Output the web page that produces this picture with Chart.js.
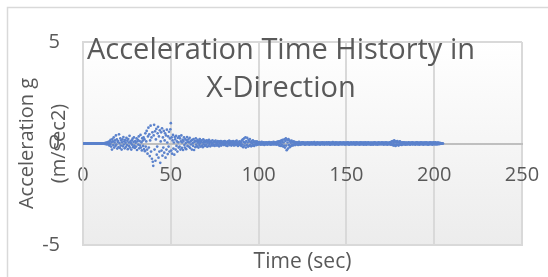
<!DOCTYPE html>
<html>
<head>
<meta charset="utf-8">
<script src="https://cdn.jsdelivr.net/npm/chart.js@4/dist/chart.umd.min.js"></script>
<style>
  html, body { margin: 0; padding: 0; background: #fff; }
  canvas { display: block; }
</style>
</head>
<body>
<canvas id="chart" width="548" height="277"></canvas>
<script>
// Acceleration record, one value every 0.25 s from t = 0
const sampleStep = 0.25;
const accel = [
  0, 0, 0, 0, 0, 0, 0, 0, 0, 0, 0, 0, 0, 0, 0, 0, 0, 0, 0, 0,
  0, 0, 0, 0, 0, 0, 0, 0, 0, 0, 0, 0, 0, 0, 0, 0, 0, 0, 0, 0,
  0, 0, 0, 0, 0, 0, 0, 0, 0, 0.01, -0.02, 0.03, 0.01, -0.04, 0.05, -0.02, 0.06, -0.05, 0.08, 0.02,
  -0.1, 0.12, -0.04, 0.18, -0.15, 0.06, -0.3, 0.22, 0.1, -0.08, 0.3, -0.2, 0.05, 0.15, -0.12, 0.4, -0.06, 0.2, -0.25, 0.08,
  0.12, -0.18, 0.45, 0.02, -0.22, 0.25, -0.1, 0.15, -0.3, 0.06, 0.2, -0.14, 0.32, -0.05, 0.1, -0.24, 0.18, 0.04, -0.16, 0.28,
  -0.08, 0.14, -0.28, 0.22, 0.05, -0.12, 0.38, -0.2, 0.1, 0.02, -0.3, 0.16, -0.06, 0.24, -0.18, 0.08, 0.3, -0.1, -0.22, 0.12,
  0.04, -0.15, 0.25, -0.32, 0.1, 0.18, -0.06, 0.35, -0.24, 0.12, -0.1, 0.42, -0.2, 0.06, -0.34, 0.26, 0.14, -0.12, 0.3, -0.28,
  0.2, -0.38, 0.5, -0.15, 0.1, 0.62, -0.3, -0.5, 0.35, 0.78, -0.2, 0.45, -0.62, 0.15, 0.88, -0.4, 0.3, -0.75, 0.55, -0.9,
  -1.1, 0.4, 0.92, -0.3, 0.6, -0.85, 0.2, 0.72, -0.55, -0.15, 0.5, 0.82, -0.7, 0.35, -0.4, 0.65, -0.95, 0.1, 0.55, -0.35,
  0.75, -0.6, 0.3, -0.2, 0.62, -0.45, 0.15, 0.5, -0.7, 0.4, -0.3, 0.68, 0.05, -0.52, 0.35, -0.15, 0.58, -0.4, 0.25, 0.7,
  1.0, -0.35, 0.3, -0.5, 0.15, 0.42, -0.25, 0.05, -0.55, 0.32, 0.2, -0.3, 0.38, -0.12, 0.1, -0.4, 0.28, 0.06, -0.2, 0.35,
  -0.15, 0.25, -0.3, 0.1, 0.4, -0.22, 0.05, 0.18, -0.32, 0.12, 0.3, -0.08, -0.2, 0.22, 0.02, -0.28, 0.15, 0.32, -0.12, 0.08,
  0.2, -0.15, 0.05, 0.28, -0.22, 0.1, -0.05, 0.15, -0.3, 0.18, 0.02, -0.12, 0.22, -0.32, 0.08, 0.12, -0.18, 0.25, -0.06, 0.1,
  -0.14, 0.18, 0.04, -0.2, 0.12, -0.08, 0.22, 0.02, -0.15, 0.1, 0.16, -0.1, 0.05, -0.18, 0.2, -0.04, 0.08, 0.14, -0.12, 0.06,
  0.12, -0.06, 0.15, -0.16, 0.04, 0.1, -0.12, 0.18, -0.02, 0.08, -0.14, 0.06, 0.12, -0.08, 0.02, 0.15, -0.1, 0.05, -0.06, 0.1,
  -0.12, 0.08, 0.14, -0.04, 0.06, -0.1, 0.02, 0.12, -0.08, 0.05, -0.14, 0.1, 0.03, -0.06, 0.12, -0.1, 0.04, 0.08, -0.05, 0.02,
  0.1, -0.08, 0.04, 0.12, -0.06, 0.02, -0.1, 0.08, 0.05, -0.12, 0.1, -0.03, 0.06, 0.14, -0.08, 0.02, -0.05, 0.1, -0.1, 0.04,
  0.08, -0.06, 0.12, 0.02, -0.1, 0.06, -0.04, 0.1, -0.08, 0.04, 0.14, -0.06, 0.02, -0.12, 0.08, 0.05, -0.04, 0.1, -0.08, 0.03,
  0.06, -0.12, 0.15, -0.05, 0.2, -0.18, 0.08, 0.25, -0.1, 0.04, 0.3, -0.2, 0.12, -0.08, 0.28, 0.05, -0.15, 0.18, -0.12, 0.1,
  0.22, -0.08, 0.05, -0.14, 0.12, 0.02, -0.1, 0.15, -0.05, 0.08, -0.12, 0.06, 0.1, -0.04, 0.02, -0.08, 0.1, -0.06, 0.04, 0.06,
  -0.05, 0.04, 0.07, -0.03, 0.02, -0.06, 0.05, 0.08, -0.04, 0.01, -0.05, 0.06, 0.03, -0.07, 0.04, 0.02, -0.04, 0.06, -0.02, 0.05,
  -0.06, 0.03, 0.05, -0.02, 0.07, -0.05, 0.01, 0.04, -0.06, 0.06, 0.02, -0.04, 0.05, -0.03, 0.08, -0.05, 0.02, 0.06, -0.04, 0.03,
  0.05, -0.06, 0.08, -0.02, 0.04, 0.1, -0.08, 0.06, -0.1, 0.12, 0.02, -0.12, 0.15, -0.06, 0.08, 0.18, -0.15, 0.05, -0.1, 0.2,
  -0.2, 0.12, 0.25, -0.1, -0.33, 0.18, 0.05, -0.25, 0.22, -0.08, 0.15, -0.18, 0.1, 0.04, -0.12, 0.14, -0.06, 0.08, -0.1, 0.05,
  0.1, -0.06, 0.04, -0.08, 0.07, 0.02, -0.05, 0.06, -0.03, 0.05, -0.07, 0.04, 0.08, -0.04, 0.02, -0.06, 0.05, 0.03, -0.05, 0.06,
  0.05, -0.03, 0.06, 0.01, -0.05, 0.04, -0.06, 0.02, 0.05, -0.04, 0.03, -0.02, 0.06, -0.05, 0.01, 0.04, -0.06, 0.05, -0.02, 0.03,
  -0.04, 0.06, 0.02, -0.05, 0.03, -0.03, 0.05, 0.07, -0.04, 0.01, -0.06, 0.04, 0.02, -0.05, 0.06, -0.01, 0.03, -0.04, 0.05, 0.02,
  -0.06, 0.04, -0.02, 0.05, 0.03, -0.05, 0.06, -0.03, 0.02, 0.04, -0.06, 0.05, -0.01, 0.03, -0.04, 0.06, 0.01, -0.05, 0.04, -0.02,
  0.06, -0.04, 0.03, -0.06, 0.05, 0.02, -0.03, 0.04, -0.05, 0.07, -0.02, 0.01, 0.05, -0.06, 0.03, -0.04, 0.06, 0.02, -0.05, 0.04,
  -0.03, 0.05, -0.06, 0.02, 0.04, -0.04, 0.06, -0.02, 0.03, -0.05, 0.05, 0.01, -0.04, 0.06, -0.03, 0.02, 0.05, -0.06, 0.04, -0.01,
  0.03, -0.05, 0.06, -0.02, 0.04, 0.05, -0.06, 0.02, -0.03, 0.05, -0.04, 0.06, 0.01, -0.05, 0.03, -0.02, 0.06, -0.04, 0.02, 0.05,
  -0.06, 0.03, 0.04, -0.05, 0.06, -0.02, 0.01, -0.04, 0.05, 0.03, -0.06, 0.04, -0.02, 0.06, -0.05, 0.02, 0.04, -0.03, 0.05, -0.06,
  0.04, 0.02, -0.05, 0.06, -0.03, 0.05, -0.06, 0.01, 0.04, -0.02, 0.06, -0.05, 0.03, 0.02, -0.04, 0.05, -0.06, 0.04, 0.01, -0.03,
  0.05, -0.06, 0.03, 0.04, -0.02, 0.06, -0.05, 0.02, -0.04, 0.05, 0.01, -0.06, 0.04, -0.03, 0.06, 0.02, -0.05, 0.03, -0.02, 0.05,
  -0.04, 0.06, -0.03, 0.02, 0.05, -0.06, 0.04, -0.01, 0.03, -0.05, 0.06, 0.02, -0.04, 0.05, -0.06, 0.03, 0.01, -0.02, 0.06, -0.04,
  0.04, -0.06, 0.08, -0.04, 0.1, -0.08, 0.12, 0.02, -0.1, 0.15, -0.06, 0.08, -0.12, 0.1, 0.04, -0.08, 0.12, -0.05, 0.06, -0.1,
  0.08, -0.04, 0.1, -0.06, 0.05, 0.02, -0.07, 0.06, -0.03, 0.04, -0.05, 0.06, 0.02, -0.04, 0.05, -0.06, 0.03, 0.05, -0.04, 0.02,
  -0.05, 0.04, 0.06, -0.03, 0.02, -0.06, 0.05, -0.02, 0.04, 0.03, -0.05, 0.06, -0.04, 0.01, 0.05, -0.03, 0.02, -0.06, 0.04, 0.05,
  -0.02, 0.06, -0.05, 0.03, -0.04, 0.05, 0.02, -0.06, 0.04, -0.01, 0.06, -0.03, 0.05, -0.05, 0.02, 0.04, -0.06, 0.03, 0.05, -0.02,
  0.04, -0.05, 0.06, 0.01, -0.04, 0.05, -0.06, 0.03, 0.02, -0.05, 0.06, -0.02, 0.04, -0.04, 0.05, 0.03, -0.06, 0.02, 0.06, -0.03,
  0.05, -0.04, 0.03, 0.06, -0.05, 0.02, -0.03, 0.05, -0.04, 0.04, 0.02, -0.03, 0.03, -0.02, 0.02, 0.01, -0.01, 0.01, 0, 0,
  0
];

const xTicks = [0, 50, 100, 150, 200, 250];
const yTicks = [-5, 0, 5];
const titleLines = ['Acceleration Time Historty in', 'X-Direction'];
const xTitle = 'Time (sec)';
const yTitle = ['Acceleration g', '(m/sec2)'];

const points = accel.map((v, i) => ({ x: i * sampleStep, y: v }));

Chart.defaults.font.family = '"Open Sans", sans-serif';
Chart.defaults.color = '#595959';

// white page, chart frame and the grey fade of the plot area
const background = {
  id: 'background',
  beforeDraw(chart) {
    const { ctx, chartArea: a } = chart;
    ctx.save();
    ctx.fillStyle = '#fff';
    ctx.fillRect(0, 0, chart.width, chart.height);
    ctx.strokeStyle = '#d9d9d9';
    ctx.lineWidth = 1.5;
    ctx.strokeRect(7.5, 7.5, 600, 300);
    const g = ctx.createLinearGradient(0, a.top, 0, a.bottom);
    g.addColorStop(0, '#ffffff');
    g.addColorStop(1, '#ececec');
    ctx.fillStyle = g;
    ctx.fillRect(a.left, a.top, a.right - a.left, a.bottom - a.top);
    ctx.restore();
  }
};

// Excel draws the title over the plot area, so it takes no layout space
const overlayTitle = {
  id: 'overlayTitle',
  afterDraw(chart) {
    const ctx = chart.ctx;
    ctx.save();
    ctx.font = '29px "Open Sans"';
    ctx.fillStyle = '#595959';
    ctx.textAlign = 'center';
    ctx.textBaseline = 'middle';
    titleLines.forEach((line, i) => ctx.fillText(line, 281, 51 + i * 38));
    ctx.restore();
  }
};

new Chart(document.getElementById('chart'), {
  type: 'scatter',
  data: {
    datasets: [{
      data: points,
      xAxisID: 'x',
      yAxisID: 'y',
      pointRadius: 1.35,
      pointHoverRadius: 1.35,
      pointBorderWidth: 0,
      backgroundColor: '#5b82cc',
      borderColor: '#5b82cc'
    }]
  },
  options: {
    responsive: false,
    animation: false,
    events: [],
    layout: { padding: { top: 42, right: 26, bottom: 0, left: 0 } },
    plugins: { legend: { display: false }, tooltip: { enabled: false } },
    scales: {
      x: {
        type: 'linear',
        position: 'bottom',
        min: xTicks[0],
        max: xTicks[xTicks.length - 1],
        ticks: { display: false, stepSize: xTicks[1] - xTicks[0] },
        grid: { color: '#d9d9d9', lineWidth: 2, drawTicks: false },
        border: { color: '#d9d9d9', width: 2 },
        title: {
          display: true,
          text: xTitle,
          font: { size: 21, lineHeight: 1 },
          color: '#595959',
          padding: { top: 0, bottom: 4 }
        },
        afterFit(scale) { scale.height = 32; }
      },
      // tick labels sit under the zero line, as in the original
      x2: {
        type: 'linear',
        position: { y: 0 },
        min: xTicks[0],
        max: xTicks[xTicks.length - 1],
        ticks: { stepSize: xTicks[1] - xTicks[0], padding: 20, font: { size: 20 }, color: '#595959' },
        grid: { display: false, drawTicks: false },
        border: { color: '#bfbfbf', width: 2 },
        afterFit(scale) { scale.paddingLeft = 0; scale.paddingRight = 0; }
      },
      y: {
        type: 'linear',
        position: 'left',
        min: yTicks[0],
        max: yTicks[yTicks.length - 1],
        ticks: { stepSize: yTicks[1] - yTicks[0], padding: 23, font: { size: 20 }, color: '#595959' },
        grid: { color: '#d9d9d9', lineWidth: 2, drawTicks: false },
        border: { color: '#d9d9d9', width: 2 },
        title: {
          display: true,
          text: yTitle,
          font: { size: 20, lineHeight: 1.6 },
          color: '#595959',
          padding: { top: 11, bottom: 0 }
        },
        afterFit(scale) {
          scale.width = 83;
          scale.paddingTop = 0;
          scale.paddingBottom = 0;
        }
      }
    }
  },
  plugins: [background, overlayTitle]
});
</script>
</body>
</html>
